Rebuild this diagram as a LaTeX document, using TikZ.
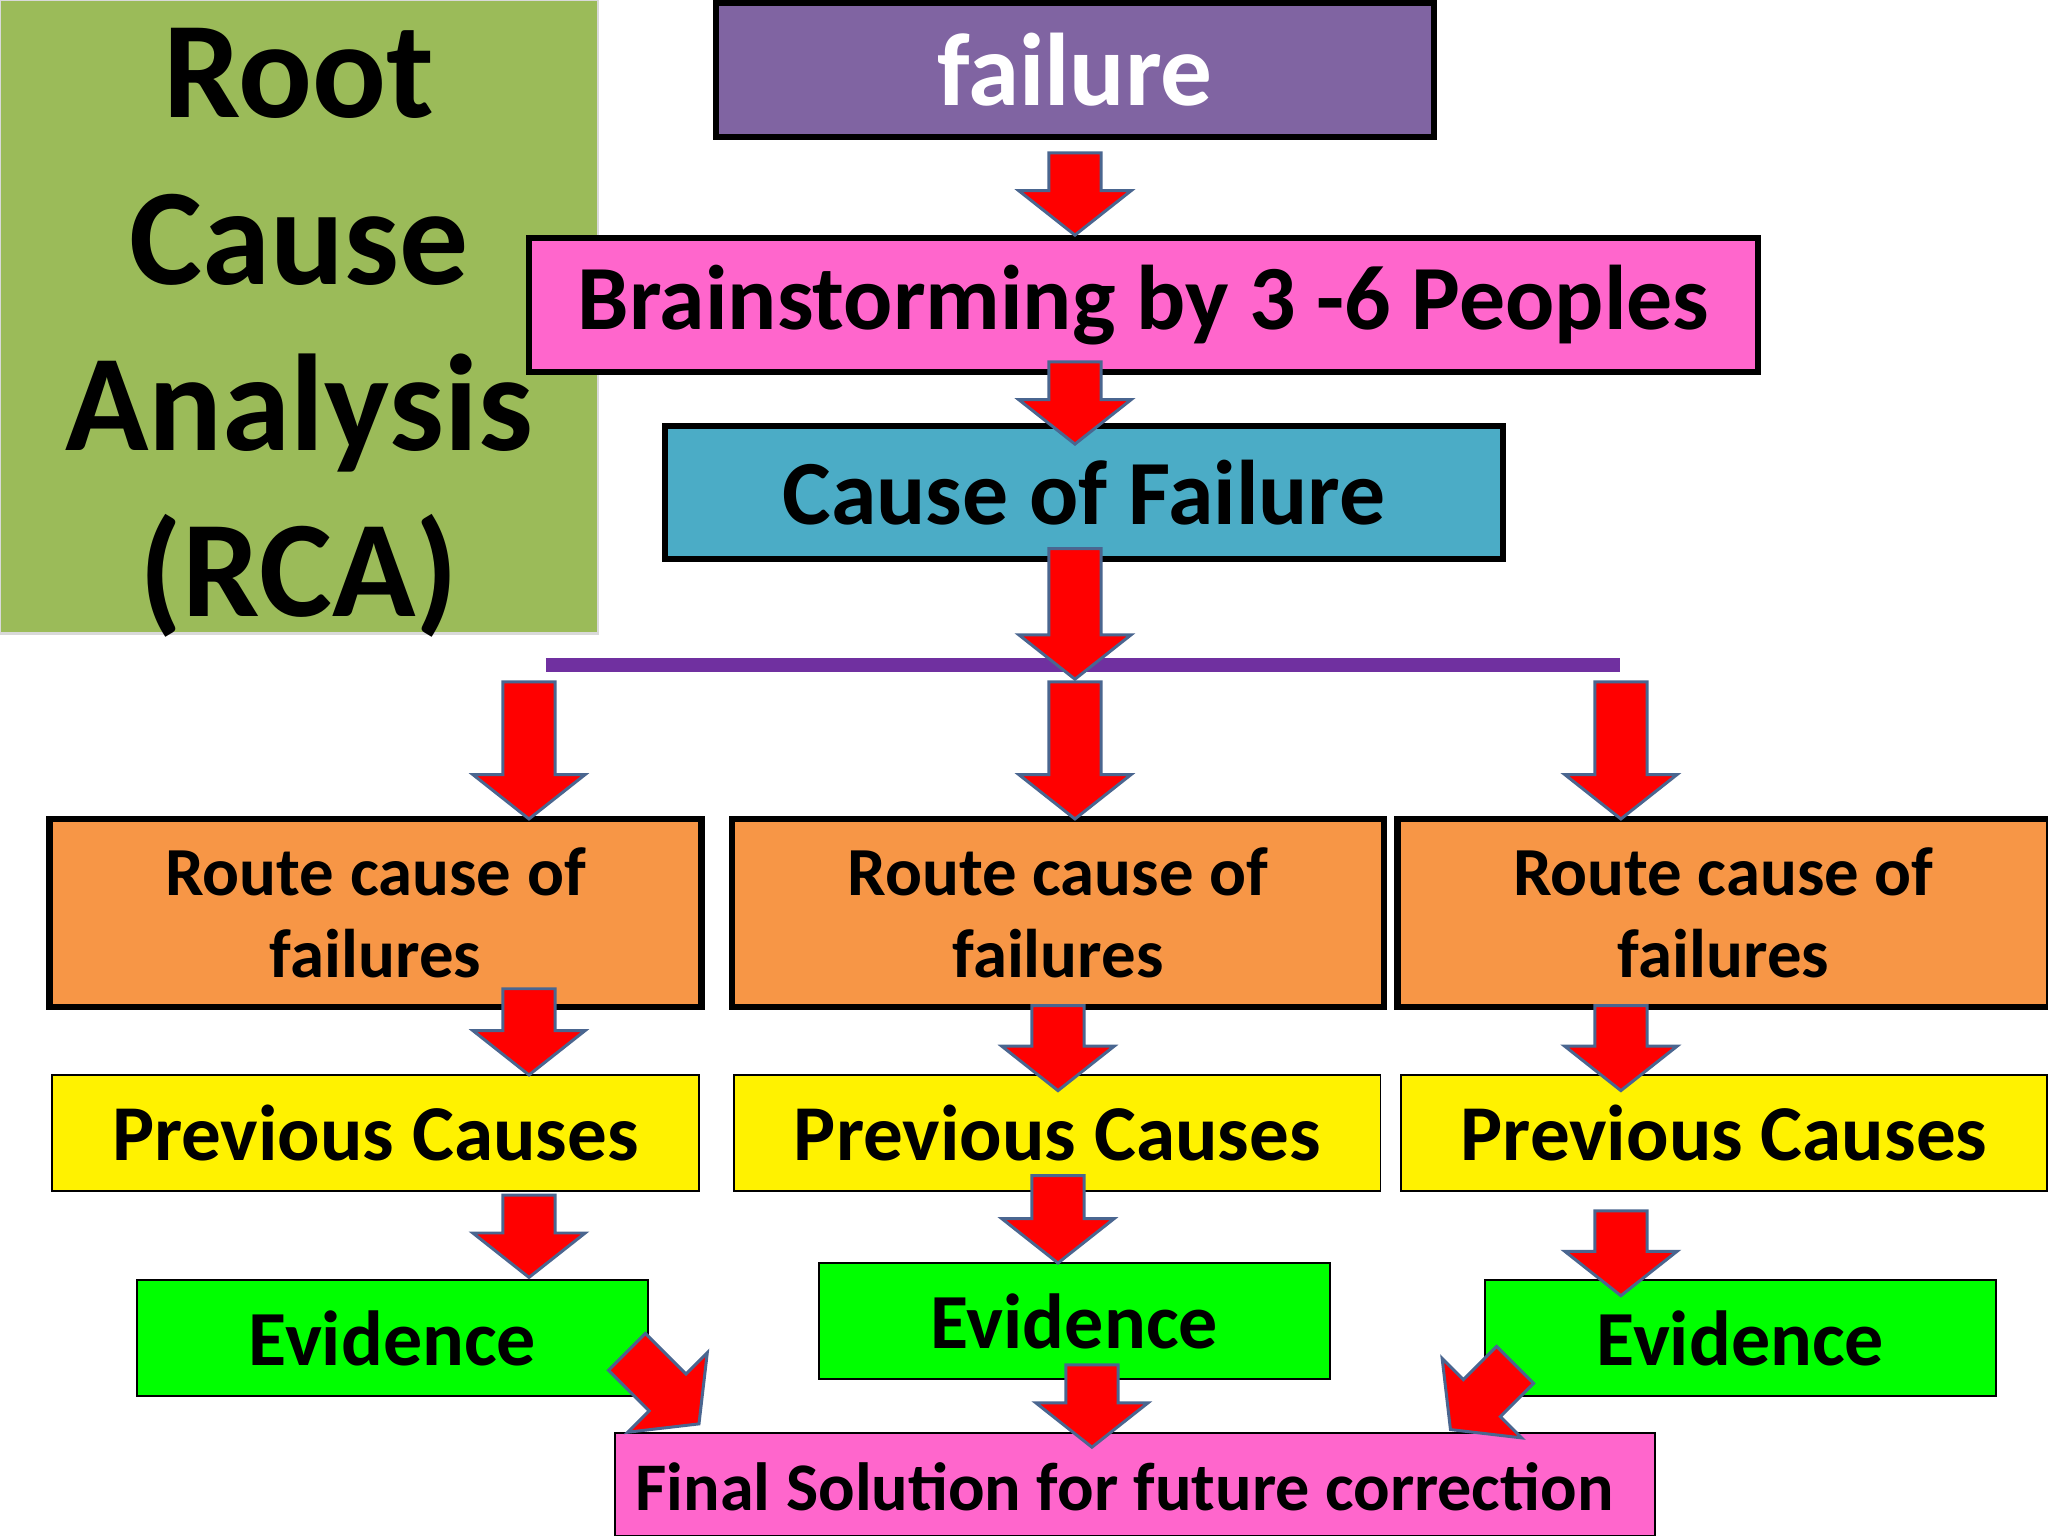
\documentclass[tikz,border=0pt]{standalone}
\usepackage{fontspec}
\setmainfont{Carlito}
\definecolor{rcag}{HTML}{9BBB59}
\definecolor{purp}{HTML}{8064A2}
\definecolor{pink}{HTML}{FF66CC}
\definecolor{cyanb}{HTML}{4BACC6}
\definecolor{orng}{HTML}{F79646}
\definecolor{lnpurp}{HTML}{7030A0}
\definecolor{arrb}{HTML}{4A6690}
\tikzset{
 box/.style={draw=black,line width=2.8pt,align=center,font=\bfseries,inner sep=0pt},
 thinbox/.style={draw=black,line width=0.8pt,align=center,font=\bfseries,inner sep=0pt},
 arr/.style={fill=red,draw=arrb,line width=1.3pt,line join=miter}
}
\newcommand\barr[4]{%
\begin{scope}[shift={(#1,#2)},rotate=#4]
\draw[arr] (-20,0)--(20,0)--(20,#3-34)--(43,#3-34)--(0,#3)--(-43,#3-34)--(-20,#3-34)--cycle;
\end{scope}}
\begin{document}
\begin{tikzpicture}[x=0.02cm,y=-0.02cm]
\useasboundingbox[fill=white] (0,0) rectangle (1568,1176);
\node[fill=rcag,draw=black!15,line width=1pt,minimum width=9.16cm,minimum height=9.7cm,inner sep=0pt] (rca) at (229,242.5) {};
\node[align=center,font=\bfseries\fontsize{60}{72.5}\selectfont,inner sep=0pt] (rcat) at (229,255) {Root\\Cause\\Analysis\\(RCA)};
\node[box,fill=purp,text=white,minimum width=11cm,minimum height=2.06cm,font=\bfseries\fontsize{45}{50}\selectfont] (fail) at (823,53.5) {failure};
\node[box,fill=pink,minimum width=18.82cm,minimum height=2.06cm,font=\bfseries\fontsize{40}{44}\selectfont] (brain) at (875.5,233.5) {Brainstorming by 3 -6 Peoples};
\node[box,fill=cyanb,minimum width=12.84cm,minimum height=2.04cm,font=\bfseries\fontsize{40}{44}\selectfont] (cause) at (830,377) {Cause of Failure};
\draw[lnpurp,line width=6pt] (418,509) coordinate (l1) -- (1240,509) coordinate (l2);
\foreach \n/\x in {1/287.5,2/810,3/1319.5}{
 \node[box,fill=orng,minimum width=9.98cm,minimum height=2.88cm,font=\bfseries\fontsize{30}{36}\selectfont] (r\n) at (\x,699) {Route cause of\\failures};}
\foreach \n/\x in {1/287.5,2/809.5,3/1320}{
 \node[thinbox,fill=yellow,minimum width=9.9cm,minimum height=1.78cm,font=\bfseries\fontsize{34.5}{40}\selectfont] (p\n) at (\x,867.5) {Previous Causes};}
\foreach \n/\x/\y in {1/300.5/1024.5,2/822.5/1011.5,3/1332.5/1024.5}{
 \node[thinbox,fill=green,minimum width=7.82cm,minimum height=1.78cm,font=\bfseries\fontsize{34}{40}\selectfont] (e\n) at (\x,\y) {Evidence};}
\node[thinbox,fill=pink,minimum width=15.92cm,minimum height=1.58cm] (fin) at (869,1136.5) {};
\node[font=\bfseries\fontsize{29.7}{34}\selectfont,inner sep=0pt] (fint) at (861,1138) {Final Solution for future correction};
\barr{823}{117}{63}{0}
\barr{823}{277}{63}{0}
\barr{823}{420}{100}{0}
\barr{405}{522}{105}{0}
\barr{823}{522}{105}{0}
\barr{1241}{522}{105}{0}
\barr{405}{757}{66}{0}
\barr{810}{770}{65}{0}
\barr{1241}{770}{65}{0}
\barr{405}{915}{63}{0}
\barr{810}{900}{67}{0}
\barr{1241}{927}{65}{0}
\barr{836}{1045}{63}{0}
\barr{480}{1035}{78}{45}
\barr{1160}{1045}{70}{-45}
\end{tikzpicture}
\end{document}
